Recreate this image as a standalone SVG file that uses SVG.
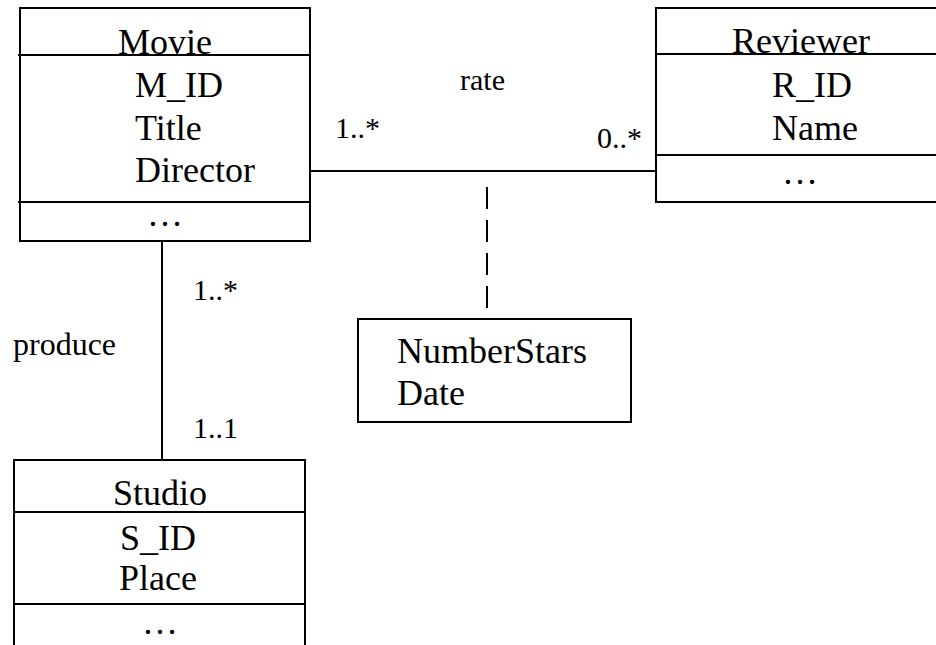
<svg xmlns="http://www.w3.org/2000/svg" width="936" height="645" viewBox="0 0 936 645">
<style>
.box{fill:#fff;stroke:#000;stroke-width:2}
.ln{stroke:#000;stroke-width:2;fill:none}
text{font-family:'Liberation Serif','Times New Roman',Tinos,'DejaVu Serif',serif;fill:#000}
.t{font-size:36px}
.c{text-anchor:middle}
.m{font-size:30px}
</style>
<rect width="936" height="645" fill="#fff"/>
<g id="connectors">
<line class="ln" x1="162" y1="241" x2="162" y2="460"/>
<line class="ln" x1="310" y1="171" x2="656" y2="171"/>
<line class="ln" x1="309" y1="128" x2="309" y2="203"/>
<line class="ln" x1="487" y1="187" x2="487" y2="310" stroke-dasharray="22 11"/>
<text class="m" x="460" y="90">rate</text>
<text class="m" x="335" y="138">1..*</text>
<text class="m" x="597" y="148">0..*</text>
<text class="m" x="13" y="355" style="font-size:32px">produce</text>
<text class="m" x="193" y="300">1..*</text>
<text class="m" x="193" y="438">1..1</text>
</g>
<g id="movie">
<rect class="box" x="20" y="8" width="290" height="233"/>
<line class="ln" x1="18" y1="55" x2="310" y2="55"/>
<line class="ln" x1="18" y1="202" x2="310" y2="202"/>
<text class="t c" x="165" y="54">Movie</text>
<text class="t" x="135" y="97">M_ID</text>
<text class="t" x="135" y="140">Title</text>
<text class="t" x="135" y="182">Director</text>
<text class="t c" x="165" y="226">…</text>
</g>
<g id="reviewer">
<rect class="box" x="656" y="8" width="290" height="194"/>
<line class="ln" x1="656" y1="54" x2="946" y2="54"/>
<line class="ln" x1="656" y1="155" x2="946" y2="155"/>
<text class="t c" x="801" y="53">Reviewer</text>
<text class="t" x="772" y="97">R_ID</text>
<text class="t" x="772" y="140">Name</text>
<text class="t c" x="800" y="184">…</text>
</g>
<g id="studio">
<rect class="box" x="14" y="460" width="291" height="200"/>
<line class="ln" x1="14" y1="512" x2="305" y2="512"/>
<line class="ln" x1="14" y1="604" x2="305" y2="604"/>
<text class="t c" x="160" y="505">Studio</text>
<text class="t c" x="158" y="550">S_ID</text>
<text class="t c" x="158" y="590">Place</text>
<text class="t c" x="160" y="634">…</text>
</g>
<g id="rating">
<rect class="box" x="358" y="319" width="273" height="103"/>
<text class="t" x="397" y="363">NumberStars</text>
<text class="t" x="397" y="405">Date</text>
</g>
</svg>
